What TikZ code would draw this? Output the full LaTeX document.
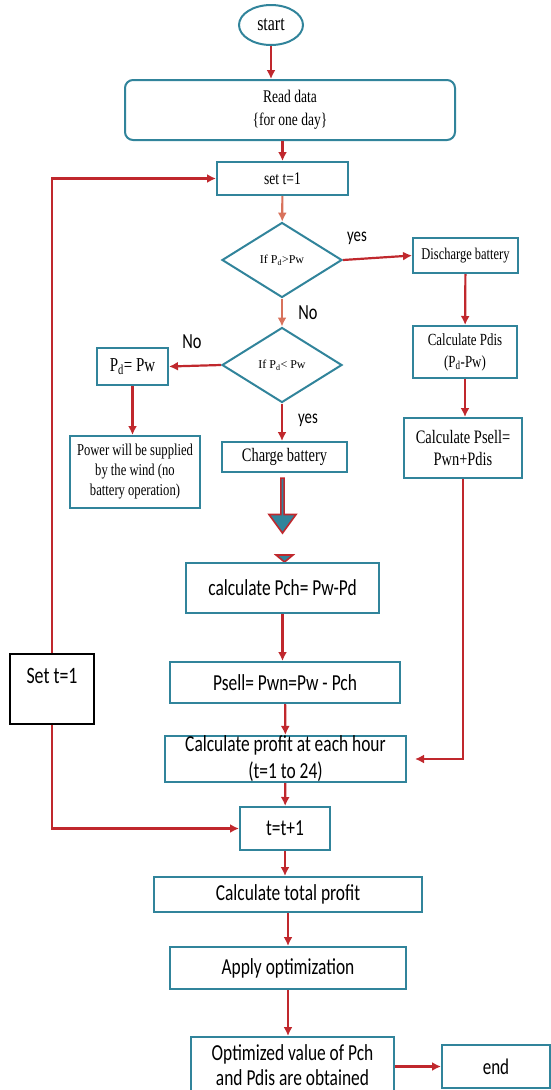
\documentclass[tikz,border=0pt]{standalone}
\usepackage{fontspec}
\setmainfont{Liberation Serif}
\newfontfamily\tallserif{Liberation Serif}[FakeStretch=0.76]
\newfontfamily\tallsans{Carlito}[FakeStretch=0.76]
\usetikzlibrary{arrows.meta,shapes.geometric,shapes.arrows}
\definecolor{tealc}{HTML}{31849B}
\definecolor{redc}{HTML}{C0282D}
\definecolor{salmonc}{HTML}{D8725C}

\begin{document}
\begin{tikzpicture}[x=1pt, y=-1pt,
  box/.style={draw=tealc, line width=2pt, fill=white, align=center, inner sep=0pt,
    font=\tallserif\fontsize{17.8}{23}\selectfont},
  sbox/.style={box, font=\tallsans\fontsize{22.9}{25}\selectfont},
  dec/.style={box, diamond, font=\fontsize{12}{14}\selectfont},
  lbl/.style={font=\tallsans\fontsize{19.5}{21}\selectfont, inner sep=0pt},
  flow/.style={-{Latex[length=9pt,width=9pt]}, redc, line width=2.2pt},
  flowo/.style={flow, salmonc},
  blockc/.style={draw=redc, fill=tealc, line width=1.6pt}]
  \useasboundingbox (0,0) rectangle (550,1090);

  % top part
  \node[box, font=\tallserif\fontsize{21}{23}\selectfont, ellipse, minimum width=64pt, minimum height=40pt]
    (start) at (271,25) {start};
  \node[box, rounded corners=8pt, minimum width=330pt, minimum height=60pt] (read) at (290,110)
    {Read data\\\{for one day\}};
  \node[box, minimum width=131pt, minimum height=33pt] (set1) at (282.5,178.5) {set t=1};
  \node[dec, minimum width=120pt, minimum height=75pt] (d1) at (282,260) {If P\textsubscript{d}>Pw};
  \node[dec, minimum width=120pt, minimum height=75pt] (d2) at (282,365) {If P\textsubscript{d}< Pw};

  % right branch
  \node[box, font=\tallserif\fontsize{16.4}{20}\selectfont, minimum width=105pt, minimum height=35pt]
    (dis) at (465.5,255.5) {Discharge battery};
  \node[box, font=\tallserif\fontsize{17}{22}\selectfont, minimum width=104pt, minimum height=52pt]
    (pdis) at (465,352) {Calculate Pdis\\(P\textsubscript{d}-Pw)};
  \node[box, font=\tallserif\fontsize{19}{22}\selectfont, minimum width=118pt, minimum height=60pt]
    (psell) at (463,448) {Calculate Psell=\\Pwn+Pdis};

  % left branch
  \node[box, font=\tallserif\fontsize{19.7}{21}\selectfont, minimum width=71pt, minimum height=37pt]
    (pdpw) at (132.5,366.5) {P\textsubscript{d}= Pw};
  \node[box, font=\tallserif\fontsize{16.6}{20}\selectfont, minimum width=130pt, minimum height=72pt]
    (power) at (135,472) {Power will be supplied\\by the wind (no\\battery operation)};
  \node[box, font=\tallserif\fontsize{19}{21}\selectfont, minimum width=125pt, minimum height=30pt]
    (chg) at (284.5,457) {Charge battery};

  % block arrow
  \node[single arrow, blockc, rotate=-90, minimum width=27pt, minimum height=55pt,
    single arrow head extend=6pt, single arrow tip angle=72, inner sep=0pt] (blk) at (282.5,504.5) {};
  \filldraw[blockc] (276,555) -- (293,555) -- (284.5,562) -- cycle;

  % lower part
  \node[sbox, minimum width=193pt, minimum height=50pt] (pch) at (282.5,588) {calculate Pch= Pw-Pd};
  \node[sbox, minimum width=230pt, minimum height=41pt] (psb) at (285,682.5) {Psell= Pwn=Pw - Pch};
  \node[sbox, font=\tallsans\fontsize{22.9}{27}\selectfont, minimum width=241pt, minimum height=44pt]
    (prof) at (285.5,759) {Calculate profit at each hour\\(t=1 to 24)};
  \node[draw=black, line width=1.5pt, fill=white, inner sep=0pt, font=\tallsans\fontsize{23.5}{25}\selectfont,
    minimum width=84pt, minimum height=70pt, text height=14pt, text depth=26pt] (sett) at (52,689) {Set t=1};
  \node[sbox, minimum width=90pt, minimum height=43pt] (tinc) at (285,828.5) {t=t+1};
  \node[sbox, minimum width=268pt, minimum height=35pt] (total) at (288,894.5) {Calculate total profit};
  \node[sbox, minimum width=236pt, minimum height=42pt] (apply) at (288,968) {Apply optimization};
  \node[sbox, minimum width=203pt, minimum height=82pt] (opt) at (292.5,1078)
    {Optimized value of Pch\\and Pdis are obtained\\};
  \node[sbox, font=\tallsans\fontsize{22.4}{25}\selectfont, minimum width=108pt, minimum height=43pt]
    (end) at (496,1066.5) {end};
  \coordinate (profin) at (415,759);

  % labels
  \node[lbl] (yes1) at (357,238) {yes};
  \node[lbl, font=\tallsans\fontsize{21.5}{23}\selectfont] (no1) at (308,313) {No};
  \node[lbl, font=\tallsans\fontsize{21.5}{23}\selectfont] (no2) at (192,342) {No};
  \node[lbl] (yes2) at (308,420) {yes};

  % connectors
  \draw[flow] (start) -- (start |- read.north);
  \draw[flow] (read.south -| set1) -- (set1);
  \draw[flowo] (set1) -- (d1);
  \draw[flow] (d1.east) -- (dis.west);
  \draw[flowo] (d1) -- (d2);
  \draw[flow] (d2.west) -- (pdpw.east);
  \draw[flow] (d2) -- (d2 |- chg.north);
  \draw[flow] (pdpw) -- (pdpw |- power.north);
  \draw[flow] (dis) -- (pdis);
  \draw[flow] (pdis) -- (pdis |- psell.north);
  \draw[flow] (psell.south) |- (profin);
  \draw[flow] (pch) -- (pch |- psb.north);
  \draw[flow] (psb) -- (prof);
  \draw[flow] (prof) -- (tinc);
  \draw[flow] (tinc) -- (tinc |- total.north);
  \draw[flow] (total) -- (apply);
  \draw[flow] (apply) -- (apply |- opt.north);
  \draw[flow] (opt.east |- end.west) -- (end.west);
  \draw[flow] (sett.north) |- (set1.west);
  \draw[flow] (sett.south) |- (tinc.west);
\end{tikzpicture}
\end{document}
